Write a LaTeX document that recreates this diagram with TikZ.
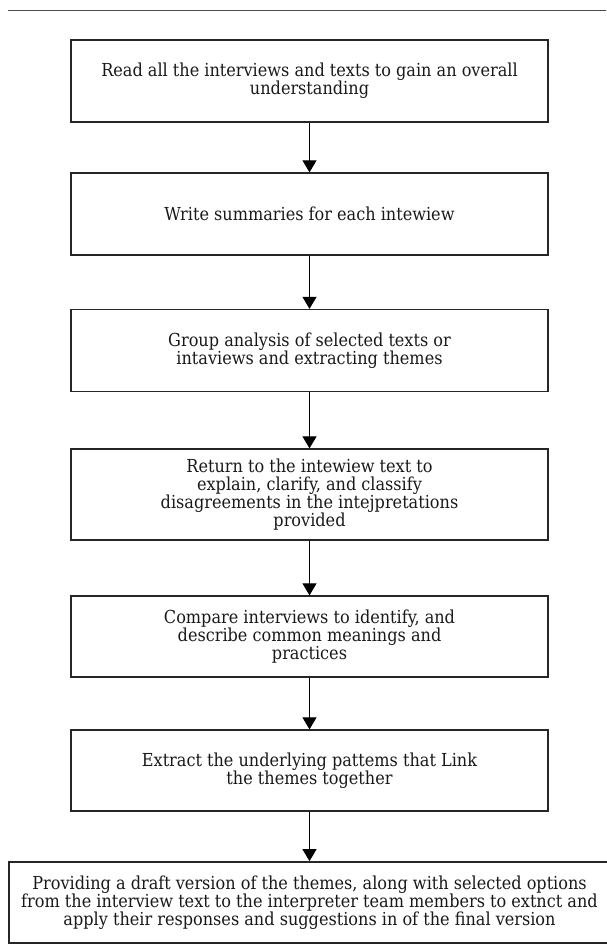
\documentclass[tikz,border=0pt]{standalone}
\usepackage{fontspec}
\setmainfont{DejaVu Serif Condensed}
\usetikzlibrary{arrows.meta}
\begin{document}
\begin{tikzpicture}[x=1pt,y=-1pt,
  stepbox/.style={draw=black!85, line width=1.3pt, minimum width=477pt, minimum height=82pt,
    inner sep=0pt, align=center, text=black!90,
    font={\fontsize{17.9}{18}\selectfont\lineskiplimit=-30pt}},
  flow/.style={draw=black, line width=1pt, -{Triangle[width=14pt,length=12pt]}}]
\useasboundingbox (0,0) rectangle (606,944);
\draw[line width=1pt, draw=black!70] (8,11) -- (606,11);
\node[stepbox, line width=1.7pt] (s1) at (309.5,81) {Read all the interviews and texts to gain an overall\\understanding};
\node[stepbox] (s2) at (309.5,214) {Write summaries for each intewiew};
\node[stepbox] (s3) at (309.5,350.5) {Group analysis of selected texts or\\intaviews and extracting themes};
\node[stepbox, minimum height=91pt] (s4) at (309.5,494.5) {Return to the intewiew text to\\explain, clarify, and classify\\disagreements in the intejpretations\\provided};
\node[stepbox, minimum height=81pt] (s5) at (309.5,636.5) {Compare interviews to identify, and\\describe common meanings and\\practices};
\node[stepbox, minimum height=81pt] (s6) at (309.5,770.5) {Extract the underlying pattems that Link\\the themes together};
\node[stepbox, line width=1.7pt, minimum width=601pt, minimum height=81pt] (s7) at (309.5,902.5) {Providing a draft version of the themes, along with selected options\\from the interview text to the interpreter team members to extnct and\\apply their responses and suggestions in of the final version};
\draw[flow] (s1) -- (s2);
\draw[flow] (s2) -- (s3);
\draw[flow] (s3) -- (s4);
\draw[flow] (s4) -- (s5);
\draw[flow] (s5) -- (s6);
\draw[flow] (s6) -- (s7);
\end{tikzpicture}
\end{document}
